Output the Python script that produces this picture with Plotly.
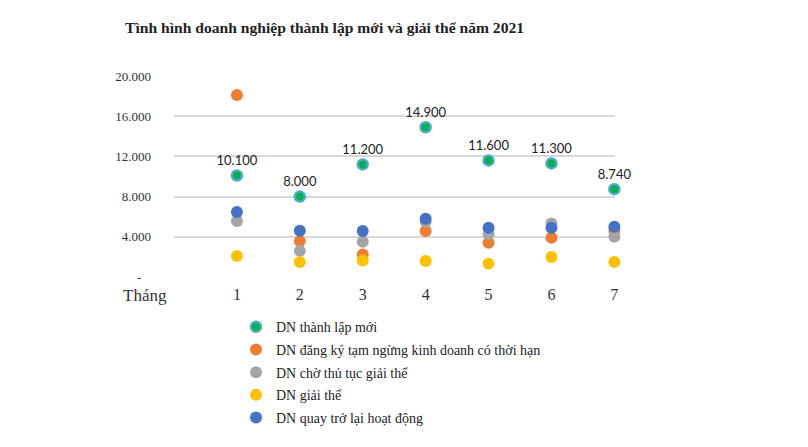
import plotly.graph_objects as go

months = [1, 2, 3, 4, 5, 6, 7]
month_labels = ["1", "2", "3", "4", "5", "6", "7"]
names = [
    "DN thành lập mới",
    "DN đăng ký tạm ngừng kinh doanh có thời hạn",
    "DN chờ thủ tục giải thể",
    "DN giải thể",
    "DN quay trở lại hoạt động",
]
thanh_lap = [10100, 8000, 11200, 14900, 11600, 11300, 8740]
tam_ngung = [18100, 3570, 2230, 4570, 3400, 3900, 4600]
cho_giai_the = [5570, 2600, 3500, 5500, 4270, 5330, 4000]
giai_the = [2100, 1500, 1640, 1600, 1330, 2000, 1500]
quay_lai = [6470, 4600, 4570, 5800, 4900, 4900, 5000]
label_text = ["10.100", "8.000", "11.200", "14.900", "11.600", "11.300", "8.740"]
y_ticks = [0, 4000, 8000, 12000, 16000, 20000]
y_ticktext = ["-\u00a0\u00a0\u00a0", "4.000", "8.000", "12.000", "16.000", "20.000"]

serif = "Liberation Serif, Times New Roman, serif"

# page body has an 8px margin in the browser: compensate
OFF = 8
L, T = 174 - OFF, 76 - OFF
PW, PH = 441, 200.7

fig = go.Figure()
fig.add_trace(go.Scatter(
    x=months, y=thanh_lap, mode="markers+text", name=names[0], legendgroup="g0",
    text=label_text, textposition="top center",
    textfont=dict(family="Lato, Open Sans, sans-serif", size=13, color="#222"),
    marker=dict(size=10, color="#00B050", line=dict(color="#4BACC6", width=2.5)),
    cliponaxis=False,
))
series = [(tam_ngung, "#ED7D31"), (cho_giai_the, "#A5A5A5"), (giai_the, "#FFC000"), (quay_lai, "#4472C4")]
for i, (vals, col) in enumerate(series):
    fig.add_trace(go.Scatter(
        x=months, y=vals, mode="markers", name=names[i + 1], legendgroup=f"g{i+1}",
        marker=dict(size=12, color=col), cliponaxis=False,
    ))

fig.update_layout(
    width=808, height=447,
    margin=dict(l=L, r=808 - L - PW, t=T, b=447 - T - PH, autoexpand=False),
    plot_bgcolor="white", paper_bgcolor="white",
    title=dict(text="<b>Tình hình doanh nghiệp thành lập mới và giải thể năm 2021</b>",
               font=dict(family=serif, size=15.6, color="#222"),
               xref="container", yref="container", x=(125 - OFF) / 808, xanchor="left",
               y=1 - (28 - OFF) / 447, yanchor="middle"),
    xaxis=dict(range=[0, 7.01], tickvals=months, ticktext=month_labels, showgrid=False,
               zeroline=False, showline=False, ticklabelstandoff=6,
               tickfont=dict(family=serif, size=16, color="#333")),
    yaxis=dict(range=[0, 20000], tickvals=y_ticks, ticktext=y_ticktext, showgrid=True,
               gridcolor="#D9D9D9", gridwidth=1.5, zeroline=False, showline=False,
               ticklabelstandoff=22, tickfont=dict(family=serif, size=13, color="#333")),
    legend=dict(x=(236 - OFF - L) / PW, y=-0.17, xanchor="left", yanchor="top",
                font=dict(family=serif, size=14, color="#222"), itemwidth=30,
                tracegroupgap=1.5, bgcolor="rgba(0,0,0,0)"),
    showlegend=True,
    annotations=[dict(text="Tháng", xref="paper", yref="paper", x=(145 - OFF - L) / PW,
                      y=-(295 - 276.7) / PH, xanchor="center", yanchor="middle",
                      showarrow=False, font=dict(family=serif, size=17, color="#333"))],
)
fig.write_html("out.html")
